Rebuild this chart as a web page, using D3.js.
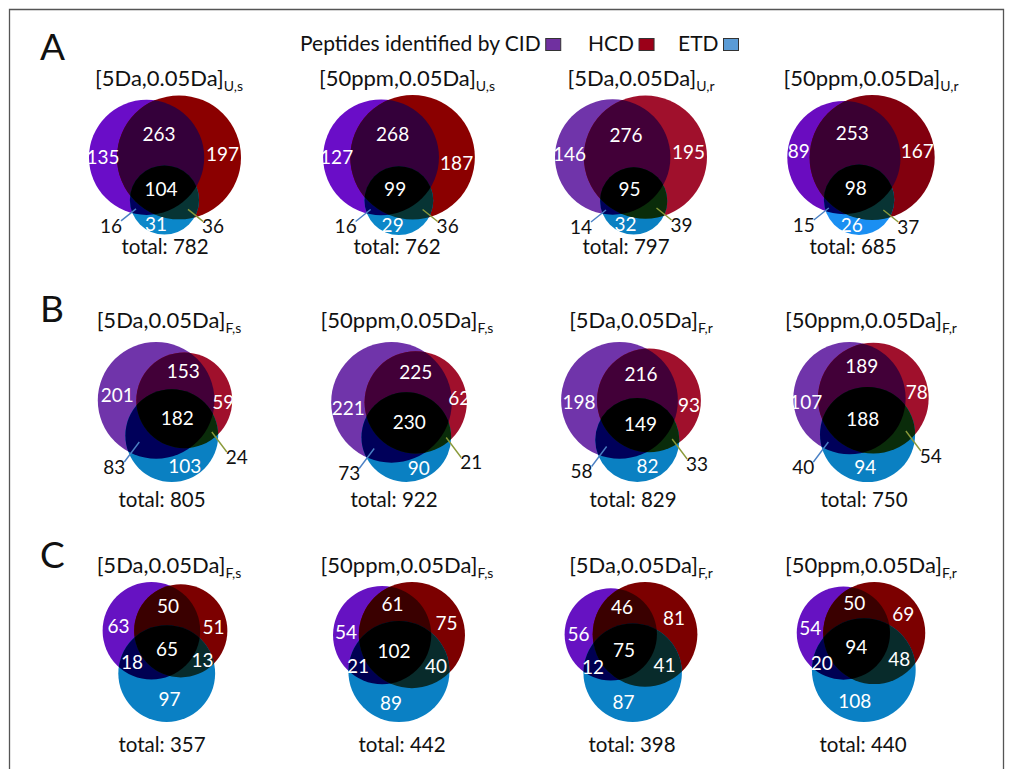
<!DOCTYPE html>
<html>
<head>
<meta charset="utf-8">
<script src="https://cdn.jsdelivr.net/npm/d3@7"></script>
<style>
  body { margin: 0; background: #fff; }
  svg { display: block; }
  text { font-family: Lato, "Open Sans", "DejaVu Sans", sans-serif; }
</style>
</head>
<body>
<svg id="fig" width="1009" height="769"></svg>
<script>
// ---- data: peptides identified by each fragmentation method (row-major, 3 panels x 4 settings)
const panelLetters = ["A", "B", "C"];
const methodNames = ["CID", "HCD", "ETD"];
const titleMain = [
  "[5Da,0.05Da]", "[50ppm,0.05Da]", "[5Da,0.05Da]", "[50ppm,0.05Da]",
  "[5Da,0.05Da]", "[50ppm,0.05Da]", "[5Da,0.05Da]", "[50ppm,0.05Da]",
  "[5Da,0.05Da]", "[50ppm,0.05Da]", "[5Da,0.05Da]", "[50ppm,0.05Da]"
];
const titleSub = ["U,s", "U,s", "U,r", "U,r", "F,s", "F,s", "F,r", "F,r", "F,s", "F,s", "F,r", "F,r"];
const cidOnly  = [135, 127, 146,  89, 201, 221, 198, 107,  63,  54,  56,  54];
const hcdOnly  = [197, 187, 195, 167,  59,  62,  93,  78,  51,  75,  81,  69];
const etdOnly  = [ 31,  29,  32,  26, 103,  90,  82,  94,  97,  89,  87, 108];
const cidHcd   = [263, 268, 276, 253, 153, 225, 216, 189,  50,  61,  46,  50];
const cidEtd   = [ 16,  16,  14,  15,  83,  73,  58,  40,  18,  21,  12,  20];
const hcdEtd   = [ 36,  36,  39,  37,  24,  21,  33,  54,  13,  40,  41,  48];
const allThree = [104,  99,  95,  98, 182, 230, 149, 188,  65, 102,  75,  94];
const totals   = [782, 762, 797, 685, 805, 922, 829, 750, 357, 442, 398, 440];

// ---- styling
const palettes = [
  { base: ["#6a0dc8", "#8b0000", "#0b87c9"], ab: "#34003a", ac: "#00005e", bc: "#073434" },
  { base: ["#7034aa", "#a0102c", "#0a80c2"], ab: "#420038", ac: "#00005a", bc: "#0a2c0a" },
  { base: ["#6a0cc0", "#82000e", "#1a8ff2"], ab: "#3a0032", ac: "#00005c", bc: "#083434" },
  { base: ["#6612c2", "#7c0000", "#0a80c4"], ab: "#3a0000", ac: "#000052", bc: "#082b2b" }
];
const paletteOf = [0, 0, 1, 2, 1, 1, 1, 1, 3, 3, 3, 3];
const legendFill = ["#7030a0", "#9b0018", "#5b9bd5"];

const colX = [165, 399, 631, 861];
const titleX = [169, 407, 641, 871];
const totalX = [165, 397, 626, 853, 162, 394, 633, 864, 162, 402, 632, 863];
const rowCY = [165, 412, 652];
const titleBase = [86, 328, 573];
const totalBase = [254, 507, 752];
const letterBase = [60, 322, 568];
const leaderRows = [true, true, false];
const leaderDy = [17, 25, 0];
const fitW = 152, fitH = 140;

const svg = d3.select("#fig");
const defs = svg.append("defs");

// frame
svg.append("path")
  .attr("d", "M9.5,769 V9.5 H1003.5 V769")
  .attr("fill", "none").attr("stroke", "#555").attr("stroke-width", 1.3);

// legend
const legend = svg.append("g").attr("font-size", 21).attr("fill", "#111");
const legX = [300, 588, 678];
const legLabels = ["Peptides identified by CID", "HCD", "ETD"];
legLabels.forEach((t, k) => {
  const tx = legend.append("text").attr("x", legX[k]).attr("y", 51).text(t);
  const w = tx.node().getComputedTextLength();
  legend.append("rect")
    .attr("x", legX[k] + w + 5).attr("y", 38.5).attr("width", 15).attr("height", 12)
    .attr("fill", legendFill[k]).attr("stroke", "#333").attr("stroke-width", 1);
});

// panel letters
panelLetters.forEach((L, r) => {
  svg.append("text").attr("x", 40).attr("y", letterBase[r])
    .attr("font-family", "'Liberation Sans', Arial, sans-serif")
    .attr("font-size", 37).attr("fill", "#111").text(L);
});

// area of the lens formed by two circles at distance d
function lensArea(r1, r2, d) {
  if (d >= r1 + r2) return 0;
  if (d <= Math.abs(r1 - r2)) return Math.PI * Math.min(r1, r2) ** 2;
  const a = r1 * r1 * Math.acos((d * d + r1 * r1 - r2 * r2) / (2 * d * r1));
  const b = r2 * r2 * Math.acos((d * d + r2 * r2 - r1 * r1) / (2 * d * r2));
  const c = 0.5 * Math.sqrt((-d + r1 + r2) * (d + r1 - r2) * (d - r1 + r2) * (d + r1 + r2));
  return a + b - c;
}
// distance giving the requested overlap area
function distanceFor(r1, r2, area) {
  let lo = Math.abs(r1 - r2), hi = r1 + r2;
  for (let it = 0; it < 60; it++) {
    const mid = (lo + hi) / 2;
    if (lensArea(r1, r2, mid) > area) lo = mid; else hi = mid;
  }
  return (lo + hi) / 2;
}

// area-proportional layout of three sets; CID and HCD side by side, ETD below
function layout(i) {
  const sizes = [
    cidOnly[i] + cidHcd[i] + cidEtd[i] + allThree[i],
    hcdOnly[i] + cidHcd[i] + hcdEtd[i] + allThree[i],
    etdOnly[i] + cidEtd[i] + hcdEtd[i] + allThree[i]
  ];
  const rScale = d3.scaleSqrt().domain([0, 1]).range([0, Math.sqrt(1 / Math.PI)]);
  const rr = sizes.map(rScale);
  const dAB = distanceFor(rr[0], rr[1], cidHcd[i] + allThree[i]);
  const dAC = distanceFor(rr[0], rr[2], cidEtd[i] + allThree[i]);
  const dBC = distanceFor(rr[1], rr[2], hcdEtd[i] + allThree[i]);
  const cx = (dAC * dAC - dBC * dBC + dAB * dAB) / (2 * dAB);
  const cy = Math.sqrt(Math.max(0, dAC * dAC - cx * cx));
  const pts = [{ x: 0, y: 0 }, { x: dAB, y: 0 }, { x: cx, y: cy }];
  const bx0 = d3.min(pts, (p, k) => p.x - rr[k]), bx1 = d3.max(pts, (p, k) => p.x + rr[k]);
  const by0 = d3.min(pts, (p, k) => p.y - rr[k]), by1 = d3.max(pts, (p, k) => p.y + rr[k]);
  const s = Math.min(fitW / (bx1 - bx0), fitH / (by1 - by0));
  const col = i % 4, row = Math.floor(i / 4);
  const hw = (bx1 - bx0) * s / 2, hh = (by1 - by0) * s / 2;
  const xs = d3.scaleLinear().domain([bx0, bx1]).range([colX[col] - hw, colX[col] + hw]);
  const ys = d3.scaleLinear().domain([by0, by1]).range([rowCY[row] - hh, rowCY[row] + hh]);
  return pts.map((p, k) => ({ x: xs(p.x), y: ys(p.y), r: rr[k] * s }));
}

// most interior point of every region (mask bit 0 = CID, 1 = HCD, 2 = ETD)
function regionPoles(circles) {
  const best = {};
  const x0 = d3.min(circles, c => c.x - c.r), x1 = d3.max(circles, c => c.x + c.r);
  const y0 = d3.min(circles, c => c.y - c.r), y1 = d3.max(circles, c => c.y + c.r);
  for (let y = y0; y <= y1; y += 0.5) {
    for (let x = x0; x <= x1; x += 0.5) {
      let mask = 0, dist = Infinity;
      circles.forEach((c, k) => {
        const d = Math.hypot(x - c.x, y - c.y);
        if (d < c.r) mask |= 1 << k;
        dist = Math.min(dist, Math.abs(d - c.r));
      });
      if (!mask) continue;
      if (!best[mask] || dist > best[mask].d) best[mask] = { x, y, d: dist };
    }
  }
  return best;
}

titleMain.forEach((t, i) => {
  const col = i % 4, row = Math.floor(i / 4);
  const pal = palettes[paletteOf[i]];
  const circles = layout(i);
  const g = svg.append("g");

  circles.forEach((c, k) => {
    defs.append("clipPath").attr("id", `clip${i}_${k}`)
      .append("circle").attr("cx", c.x).attr("cy", c.y).attr("r", c.r);
  });
  const disc = (sel, c) => sel.append("circle").attr("cx", c.x).attr("cy", c.y).attr("r", c.r);

  circles.forEach((c, k) => disc(g, c).attr("fill", pal.base[k]));
  disc(g, circles[1]).attr("clip-path", `url(#clip${i}_0)`).attr("fill", pal.ab);
  disc(g, circles[2]).attr("clip-path", `url(#clip${i}_0)`).attr("fill", pal.ac);
  disc(g, circles[2]).attr("clip-path", `url(#clip${i}_1)`).attr("fill", pal.bc);
  disc(g.append("g").attr("clip-path", `url(#clip${i}_0)`), circles[2])
    .attr("clip-path", `url(#clip${i}_1)`).attr("fill", "#000");

  const poles = regionPoles(circles);
  const values = { 1: cidOnly[i], 2: hcdOnly[i], 4: etdOnly[i], 3: cidHcd[i], 5: cidEtd[i], 6: hcdEtd[i], 7: allThree[i] };
  Object.keys(values).forEach(m => {
    const p = poles[m];
    if (!p) return;
    const outside = leaderRows[row] && (m === "5" || m === "6");
    if (outside) {
      const sgn = m === "5" ? -1 : 1;
      const dy = leaderDy[row];
      g.append("line")
        .attr("x1", p.x).attr("y1", p.y)
        .attr("x2", p.x + sgn * 15).attr("y2", p.y + dy - 5)
        .attr("stroke", m === "5" ? "#4a80c4" : "#8a9a3a").attr("stroke-width", 1.4);
      g.append("text")
        .attr("x", p.x + sgn * 25).attr("y", p.y + dy).attr("dy", "0.35em")
        .attr("text-anchor", "middle").attr("font-size", 19).attr("fill", "#111")
        .text(values[m]);
    } else {
      g.append("text")
        .attr("x", p.x).attr("y", p.y).attr("dy", "0.35em")
        .attr("text-anchor", "middle").attr("font-size", 19).attr("fill", "#fff")
        .text(values[m]);
    }
  });

  // title with subscript
  const tt = svg.append("text").attr("x", titleX[col]).attr("y", titleBase[row])
    .attr("text-anchor", "middle").attr("font-size", 22).attr("fill", "#111");
  tt.append("tspan").text(t);
  tt.append("tspan").attr("font-size", 14).attr("dy", 5).text(titleSub[i]);

  svg.append("text").attr("x", totalX[i]).attr("y", totalBase[row])
    .attr("text-anchor", "middle").attr("font-size", 20.5).attr("fill", "#111")
    .text(`total: ${totals[i]}`);
});
</script>
</body>
</html>
